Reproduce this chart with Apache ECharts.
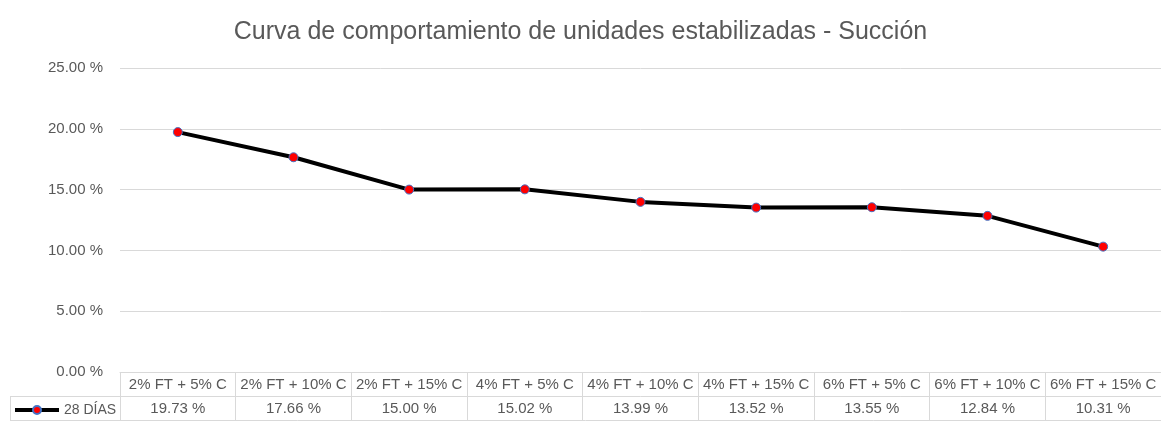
<!DOCTYPE html>
<html>
<head>
<meta charset="utf-8">
<script src="https://cdn.jsdelivr.net/npm/echarts@6/dist/echarts.min.js"></script>
<style>
  html, body { margin: 0; padding: 0; background: #fff; }
  #main { width: 1161px; height: 425px; }
</style>
</head>
<body>
<div id="main"></div>
<script>
var categories = ['2% FT + 5% C', '2% FT + 10% C', '2% FT + 15% C', '4% FT + 5% C', '4% FT + 10% C', '4% FT + 15% C', '6% FT + 5% C', '6% FT + 10% C', '6% FT + 15% C'];
var succion28 = [19.73, 17.66, 15.00, 15.02, 13.99, 13.52, 13.55, 12.84, 10.31];
var serieName = '28 DÍAS';

var font = 'Liberation Sans';
var gris = '#595959';
var lineaTabla = '#d9d9d9';

var myChart = echarts.init(document.getElementById('main'));
var option = {
  animation: false,
  title: {
    text: 'Curva de comportamiento de unidades estabilizadas - Succión',
    left: 'center',
    top: 15,
    textStyle: { fontFamily: font, fontSize: 25, fontWeight: 'normal', color: gris }
  },
  legend: {
    left: 13,
    top: 403,
    padding: 0,
    itemWidth: 44,
    itemHeight: 10,
    itemGap: 4,
    textStyle: { fontFamily: font, fontSize: 14, color: gris },
    lineStyle: { width: 4 },
    data: [serieName]
  },
  grid: { left: 120, right: 0, top: 68, bottom: 53 },
  xAxis: [{
    type: 'category',
    data: categories,
    position: 'bottom',
    axisLine: { lineStyle: { color: lineaTabla } },
    axisTick: { show: true, length: 48, lineStyle: { color: lineaTabla } },
    axisLabel: { fontFamily: font, fontSize: 15, color: gris, margin: 5, interval: 0 }
  }, {
    // fila de valores de la tabla
    type: 'category',
    data: categories,
    position: 'bottom',
    offset: 24,
    axisLine: { lineStyle: { color: lineaTabla } },
    axisTick: { show: false },
    axisLabel: {
      fontFamily: font, fontSize: 15, color: gris, margin: 5, interval: 0,
      formatter: function(v, i) { return succion28[i].toFixed(2) + ' %'; }
    }
  }],
  yAxis: {
    type: 'value',
    min: 0,
    max: 25,
    interval: 5,
    axisLine: { show: false },
    axisTick: { show: false },
    splitLine: { lineStyle: { color: lineaTabla } },
    axisLabel: {
      fontFamily: font, fontSize: 15, color: gris, margin: 17,
      formatter: function(v) { return v.toFixed(2) + ' %'; }
    }
  },
  series: [{
    name: serieName,
    type: 'line',
    data: succion28,
    symbol: 'circle',
    symbolSize: 9,
    lineStyle: { color: '#000', width: 4 },
    itemStyle: { color: '#ff0000', borderColor: '#4472c4', borderWidth: 1 }
  }],
  graphic: [
    // celda de leyenda y borde inferior de la tabla
    { type: 'line', shape: { x1: 10, y1: 396.5, x2: 120, y2: 396.5 }, style: { stroke: lineaTabla } },
    { type: 'line', shape: { x1: 10, y1: 420.5, x2: 1161, y2: 420.5 }, style: { stroke: lineaTabla } },
    { type: 'line', shape: { x1: 10.5, y1: 396, x2: 10.5, y2: 421 }, style: { stroke: lineaTabla } }
  ]
};
myChart.setOption(option);
</script>
</body>
</html>
